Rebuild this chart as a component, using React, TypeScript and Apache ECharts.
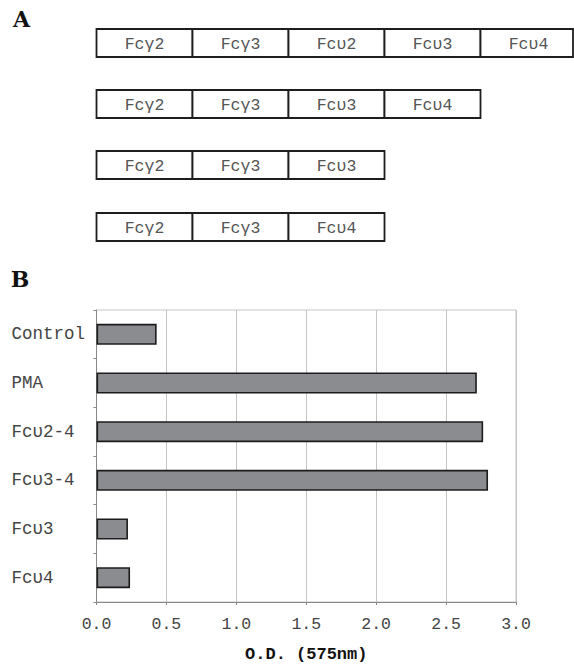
import React, { useEffect, useRef } from "react";
import * as echarts from "echarts";

const domainRows: string[][] = [
  ["Fcγ2", "Fcγ3", "Fcυ2", "Fcυ3", "Fcυ4"],
  ["Fcγ2", "Fcγ3", "Fcυ3", "Fcυ4"],
  ["Fcγ2", "Fcγ3", "Fcυ3"],
  ["Fcγ2", "Fcγ3", "Fcυ4"],
];

const categories: string[] = ["Control", "PMA", "Fcυ2-4", "Fcυ3-4", "Fcυ3", "Fcυ4"];
const odValues: number[] = [0.43, 2.72, 2.765, 2.8, 0.225, 0.24];
const xTicks = { min: 0, max: 3, interval: 0.5 };
const xAxisTitle = "O.D. (575nm)";
const panelLabels = ["A", "B"];

const MONO = "Liberation Mono";

export default function App() {
  const ref = useRef<HTMLDivElement>(null);
  useEffect(() => {
    if (!ref.current) return;
    const chart = echarts.init(ref.current, undefined, { renderer: "svg" });

    const rowTops = [29, 90, 151, 213];
    const boxH = 28;
    const boxW = 96;
    const startX = 96.5;
    const graphics: any[] = [];
    domainRows.forEach((row, ri) => {
      row.forEach((lab, ci) => {
        const x = startX + ci * boxW;
        const w = Math.min(boxW, 573 - x);
        graphics.push({
          type: "rect",
          shape: { x, y: rowTops[ri], width: w, height: boxH },
          style: { fill: "#fff", stroke: "#1e1e1e", lineWidth: 1.8 },
        });
        graphics.push({
          type: "text",
          x: x + boxW / 2,
          y: rowTops[ri] + boxH / 2 + 1,
          style: {
            text: lab,
            align: "center",
            verticalAlign: "middle",
            fontFamily: MONO,
            fontSize: 16.5,
            fill: "#555",
          },
        });
      });
    });
    const panelPos = [
      [21.5, 19],
      [20, 279],
    ];
    panelLabels.forEach((p, i) => {
      graphics.push({
        type: "text",
        x: panelPos[i][0],
        y: panelPos[i][1],
        style: {
          text: p,
          align: "center",
          verticalAlign: "middle",
          fontFamily: "DejaVu Serif",
          fontWeight: "bold",
          fontSize: 22,
          fill: "#111",
        },
      });
    });

    chart.setOption({
      animation: false,
      textStyle: { fontFamily: MONO },
      grid: {
        left: 96.5,
        right: 58,
        top: 310,
        bottom: 60,
        show: true,
        borderColor: "#c4c4c4",
        borderWidth: 1,
        backgroundColor: "transparent",
      },
      xAxis: {
        type: "value",
        min: xTicks.min,
        max: xTicks.max,
        interval: xTicks.interval,
        axisLine: { show: true, lineStyle: { color: "#888", width: 1 } },
        axisTick: { show: true, length: 3, lineStyle: { color: "#888" } },
        splitLine: { show: true, lineStyle: { color: "#c4c4c4", width: 1 } },
        axisLabel: {
          formatter: (v: number) => v.toFixed(1),
          fontFamily: MONO,
          fontSize: 16.5,
          color: "#444",
          margin: 14,
        },
        name: xAxisTitle,
        nameLocation: "middle",
        nameGap: 44,
        nameTextStyle: { fontFamily: MONO, fontWeight: "bold", fontSize: 17, color: "#111" },
      },
      yAxis: {
        type: "category",
        inverse: true,
        data: categories,
        axisLine: { show: true, lineStyle: { color: "#888", width: 1 } },
        axisTick: { show: true, length: 3, lineStyle: { color: "#888" } },
        splitLine: { show: false },
        axisLabel: {
          align: "left",
          margin: 85,
          fontFamily: MONO,
          fontSize: 17.5,
          color: "#444",
        },
      },
      series: [
        {
          type: "bar",
          data: odValues,
          barWidth: 21,
          itemStyle: { color: "#8a8c90", borderColor: "#1c1c1c", borderWidth: 1.6 },
        },
      ],
      graphic: graphics,
    });
    return () => chart.dispose();
  }, []);
  return (
    <div
      ref={ref}
      style={{ position: "absolute", left: 0, top: 0, width: 574, height: 664, background: "#fff" }}
    />
  );
}
